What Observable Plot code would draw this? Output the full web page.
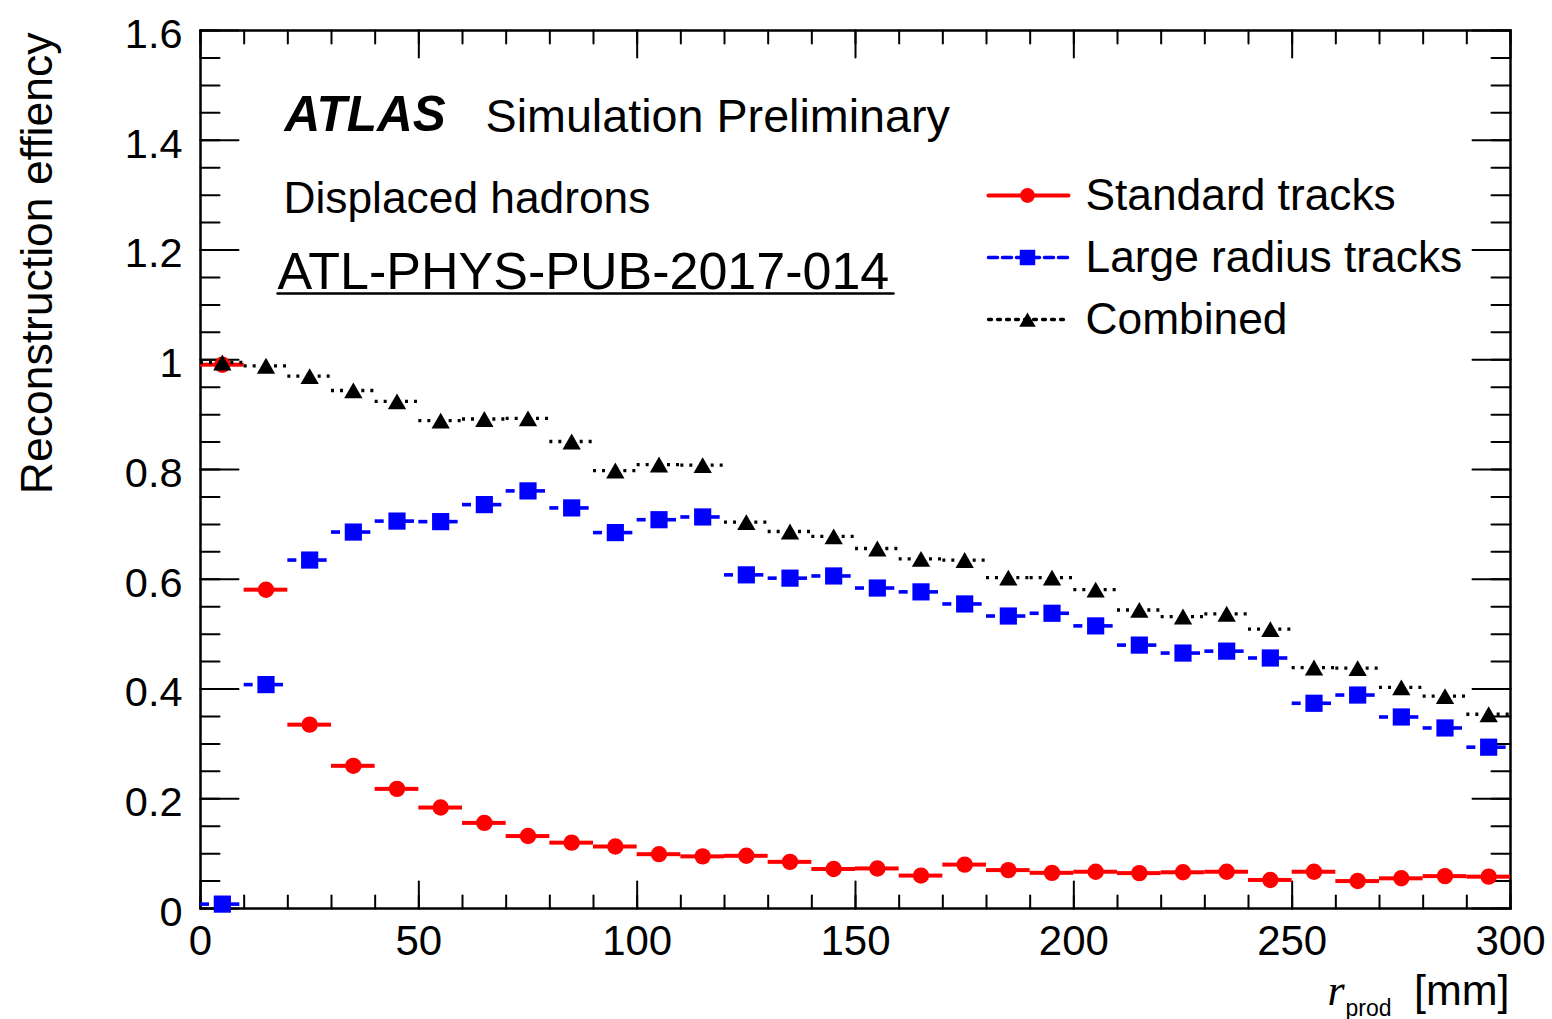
<!DOCTYPE html>
<html>
<head>
<meta charset="utf-8">
<script src="https://cdn.jsdelivr.net/npm/d3@7"></script>
<script src="https://cdn.jsdelivr.net/npm/@observablehq/plot@0.6"></script>
<style>
  html, body { margin: 0; padding: 0; background: white; }
  #chart svg { display: block; }
</style>
</head>
<body>
<div id="chart"></div>
<script>
// Production radius bins (mm), each 10 mm wide
const binCenters = [5, 15, 25, 35, 45, 55, 65, 75, 85, 95,
  105, 115, 125, 135, 145, 155, 165, 175, 185, 195,
  205, 215, 225, 235, 245, 255, 265, 275, 285, 295];
const binWidth = 10;

// Reconstruction efficiency per bin
const standardEff = [0.991, 0.581, 0.335, 0.260, 0.218, 0.184, 0.156, 0.132, 0.120, 0.113,
  0.099, 0.095, 0.096, 0.085, 0.072, 0.073, 0.060, 0.080, 0.070, 0.065,
  0.067, 0.0645, 0.066, 0.067, 0.052, 0.067, 0.050, 0.055, 0.059, 0.058];
const largeRadiusEff = [0.008, 0.408, 0.635, 0.686, 0.706, 0.705, 0.736, 0.761, 0.730, 0.685,
  0.7085, 0.7135, 0.608, 0.602, 0.606, 0.584, 0.577, 0.555, 0.533, 0.538,
  0.515, 0.480, 0.4655, 0.469, 0.4565, 0.374, 0.389, 0.349, 0.329, 0.294];
const combinedEff = [0.995, 0.989, 0.970, 0.944, 0.924, 0.889, 0.892, 0.893, 0.851, 0.798,
  0.809, 0.808, 0.704, 0.687, 0.678, 0.656, 0.637, 0.635, 0.603, 0.603,
  0.581, 0.544, 0.532, 0.537, 0.509, 0.439, 0.438, 0.403, 0.387, 0.354];

// Axis ticks
const xTickValues = [0, 50, 100, 150, 200, 250, 300];
const yTickValues = [0, 0.2, 0.4, 0.6, 0.8, 1, 1.2, 1.4, 1.6];
const xMinorTickValues = d3.ticks(0, 300, 30);
const yMinorTickValues = d3.ticks(0, 1.6, 32);

const legendLabels = ["Standard tracks", "Large radius tracks", "Combined"];
const xTitleParts = ["r", "prod", "[mm]"];
const yTitle = "Reconstruction effiency";
const labelLines = ["ATLAS", "Simulation Preliminary", "Displaced hadrons", "ATL-PHYS-PUB-2017-014"];

// Styles for the three track collections
const styles = [
  {color: "#ff0000", symbol: "circle", r: 8.2, width: 4, dash: null, dy: 0},
  {color: "#0000ff", symbol: "square", r: 9.7, width: 3.6, dash: "9,5", dy: 0},
  {color: "#000000", symbol: "triangle", r: 6.8, width: 3.3, dash: "3,6", dy: 2.6}
];
const effSeries = [standardEff, largeRadiusEff, combinedEff];

const rowsOf = values => binCenters.map((c, i) => ({
  r: c, lo: c - binWidth / 2, hi: c + binWidth / 2, eff: values[i]
}));

// A straight stroke along the vector direction (used for ticks and legend lines)
const lineShape = {
  draw(context, length) { context.moveTo(0, 0); context.lineTo(0, -length); }
};

function tickMarks(values, opts) {
  return Plot.vector(values, {
    ...opts, anchor: "start", shape: lineShape, stroke: "black", strokeWidth: 2
  });
}

const seriesMarks = effSeries.flatMap((values, k) => {
  const s = styles[k];
  const rows = rowsOf(values);
  const ruleStyle = {stroke: s.color, strokeWidth: s.width, strokeDasharray: s.dash};
  const half = s.dash ? 8.5 : 0;
  return [
    Plot.ruleY(rows, {y: "eff", x1: "lo", x2: "r", insetRight: half, ...ruleStyle}),
    Plot.ruleY(rows, {y: "eff", x1: "r", x2: "hi", insetLeft: half, ...ruleStyle}),
    Plot.dot(rows, {x: "r", y: "eff", r: s.r, symbol: s.symbol, fill: s.color, stroke: "none", dy: s.dy})
  ];
});

const legendMarks = legendLabels.flatMap((label, k) => {
  const s = styles[k];
  const rowDy = 165 + 62 * k;
  return [
    Plot.vector([label], {frameAnchor: "top-left", dx: 788, dy: rowDy, length: 80, rotate: 90,
      anchor: "start", shape: lineShape, stroke: s.color, strokeWidth: s.width, strokeDasharray: s.dash}),
    Plot.dot([label], {frameAnchor: "top-left", dx: 827, dy: rowDy + s.dy, r: s.r * 0.9,
      symbol: s.symbol, fill: s.color, stroke: "none"}),
    Plot.text([label], {frameAnchor: "top-left", dx: 885, dy: rowDy + 14, textAnchor: "start",
      lineAnchor: "bottom", fontSize: 44.3, fill: "black"})
  ];
});

const chart = Plot.plot({
  width: 1552,
  height: 1019,
  marginLeft: 200,
  marginRight: 42,
  marginTop: 30,
  marginBottom: 111,
  x: {domain: [0, 300]},
  y: {domain: [0, 1.6]},
  style: {
    fontFamily: "'Liberation Sans', Arial, Helvetica, sans-serif",
    background: "white",
    color: "black",
    overflow: "visible"
  },
  marks: [
    Plot.frame({stroke: "black", strokeWidth: 2.5}),
    // inward ticks on all four sides
    tickMarks(xMinorTickValues, {x: d => d, frameAnchor: "bottom", length: 13, rotate: 0}),
    tickMarks(xTickValues, {x: d => d, frameAnchor: "bottom", length: 27, rotate: 0}),
    tickMarks(xMinorTickValues, {x: d => d, frameAnchor: "top", length: 13, rotate: 180}),
    tickMarks(xTickValues, {x: d => d, frameAnchor: "top", length: 27, rotate: 180}),
    tickMarks(yMinorTickValues, {y: d => d, frameAnchor: "left", length: 19, rotate: 90}),
    tickMarks(yTickValues, {y: d => d, frameAnchor: "left", length: 38, rotate: 90}),
    tickMarks(yMinorTickValues, {y: d => d, frameAnchor: "right", length: 19, rotate: -90}),
    tickMarks(yTickValues, {y: d => d, frameAnchor: "right", length: 38, rotate: -90}),
    Plot.axisX({ticks: xTickValues, tickSize: 0, tickPadding: 17, fontSize: 42, label: null,
      tickFormat: d3.format("~g")}),
    Plot.axisY({ticks: yTickValues, tickSize: 0, tickPadding: 18, fontSize: 41.5, label: null,
      tickFormat: d3.format("~g"), dy: 4}),
    // axis titles
    Plot.text([yTitle], {frameAnchor: "top-left", rotate: -90, textAnchor: "end", lineAnchor: "bottom",
      dx: -149, dy: 2, fontSize: 44.5, fill: "black"}),
    Plot.text([xTitleParts[0]], {frameAnchor: "bottom-right", textAnchor: "end", lineAnchor: "bottom",
      dx: -166, dy: 96, fontSize: 44, fontStyle: "italic", fontFamily: "'Liberation Serif', serif", fill: "black"}),
    Plot.text([xTitleParts[1]], {frameAnchor: "bottom-right", textAnchor: "end", lineAnchor: "bottom",
      dx: -119, dy: 107, fontSize: 23, fill: "black"}),
    Plot.text([xTitleParts[2]], {frameAnchor: "bottom-right", textAnchor: "end", lineAnchor: "bottom",
      dx: -1, dy: 96, fontSize: 43, fill: "black"}),
    // data
    ...seriesMarks,
    // labels
    Plot.text([labelLines[0]], {frameAnchor: "top-left", textAnchor: "start", lineAnchor: "bottom",
      dx: 84, dy: 100, fontSize: 49.5, fontWeight: "bold", fontStyle: "italic", fill: "black"}),
    Plot.text([labelLines[1]], {frameAnchor: "top-left", textAnchor: "start", lineAnchor: "bottom",
      dx: 285, dy: 101, fontSize: 46.7, fill: "black"}),
    Plot.text([labelLines[2]], {frameAnchor: "top-left", textAnchor: "start", lineAnchor: "bottom",
      dx: 83, dy: 182, fontSize: 44.3, fill: "black"}),
    Plot.text([labelLines[3]], {frameAnchor: "top-left", textAnchor: "start", lineAnchor: "bottom",
      dx: 77, dy: 258, fontSize: 52, fill: "black"}),
    Plot.vector([labelLines[3]], {frameAnchor: "top-left", dx: 77, dy: 263, length: 616, rotate: 90,
      anchor: "start", shape: lineShape, stroke: "black", strokeWidth: 2.5}),
    // legend
    ...legendMarks
  ]
});

document.getElementById("chart").appendChild(chart);
</script>
</body>
</html>
